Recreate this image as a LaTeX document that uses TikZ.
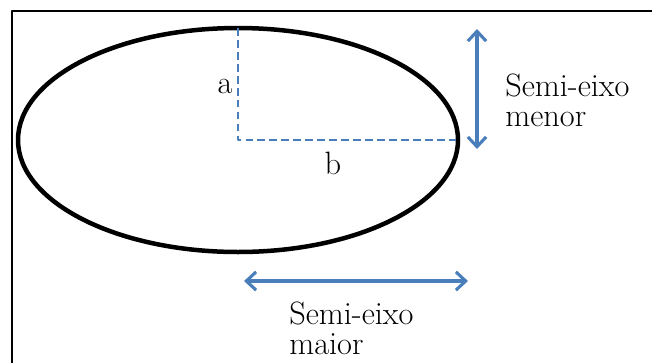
\documentclass[tikz,border=0pt]{standalone}
\usetikzlibrary{arrows.meta}
\definecolor{eixoblue}{RGB}{74,126,187}
\begin{document}
\begin{tikzpicture}[x=0.025cm, y=-0.025cm, line cap=butt, line join=round,
		font=\fontsize{23}{21.3}\selectfont,
		semieixo/.style={draw=eixoblue, line width=2.3pt, {Straight Barb[length=7pt,width=13pt,line width=2.2pt]}-{Straight Barb[length=7pt,width=13pt,line width=2.2pt]}},
		raio/.style={draw=eixoblue, line width=2.1pt, dash pattern=on 5.5pt off 3pt},
		rotulo/.style={inner sep=0pt, align=left, anchor=west}]
	\useasboundingbox (0,0) rectangle (652,363);
	% moldura (so topo e lado esquerdo)
	\draw[line width=1.7pt] (12,363) -- (12,11) -- (652,11);
	% elipse e semi-eixos
	\coordinate (O) at (238,140);
	\coordinate (A) at (238,28);
	\coordinate (B) at (458,140);
	\draw[line width=3.2pt] (O) ellipse (220 and 112);
	\draw[raio] (A) -- (O) -- (B);
	\node (a) at (225,86) {a};
	\node (b) at (333,163) {b};
	% setas
	\coordinate (m1) at (477,29);
	\coordinate (m2) at (477,149);
	\coordinate (M1) at (244,281);
	\coordinate (M2) at (468,281);
	\draw[semieixo] (m1) -- (m2);
	\draw[semieixo] (M1) -- (M2);
	\node[rotulo] (menor) at (505,100) {Semi-eixo\\menor};
	\node[rotulo] (maior) at (289,328) {Semi-eixo\\maior};
\end{tikzpicture}
\end{document}
